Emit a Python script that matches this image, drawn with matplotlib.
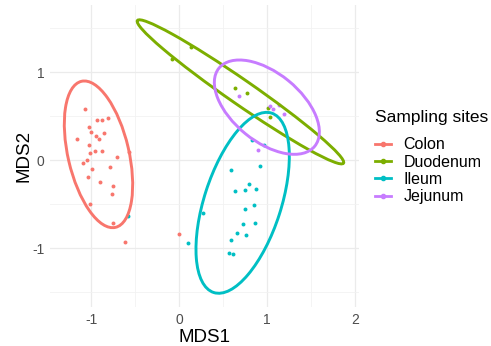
import numpy as np
import matplotlib
matplotlib.use("Agg")
import matplotlib.pyplot as plt
from matplotlib.patches import Ellipse
from matplotlib.lines import Line2D

plt.rcParams['font.family'] = ['Liberation Sans', 'DejaVu Sans']
plt.rcParams['axes.unicode_minus'] = False

# groups and ggplot hue colours
sites = ['Colon', 'Duodenum', 'Ileum', 'Jejunum']
colors = ['#F8766D', '#7CAE00', '#00BFC4', '#C77CFF']

# MDS coordinates
colon_x = [-1.072, -0.935, -0.878, -0.814, -1.030, -1.003, -0.947, -0.916, -0.852,
           -1.166, -1.023, -0.955, -0.875, -1.015, -0.711, -0.568, -1.049, -1.098,
           -0.784, -0.989, -1.034, -0.898, -0.750, -0.765, -1.011, -0.753, -0.617, 0.0]
colon_y = [0.580, 0.458, 0.455, 0.477, 0.382, 0.322, 0.276, 0.242, 0.314,
           0.239, 0.177, 0.109, 0.102, 0.080, 0.034, 0.098, 0.003, -0.031,
           -0.076, -0.102, -0.186, -0.250, -0.289, -0.386, -0.493, -0.713, -0.925, -0.841]

duod_x = [0.129, -0.080, 0.636, 0.766, 1.004, 1.027]
duod_y = [1.291, 1.155, 0.818, 0.768, 0.598, 0.495]

ileum_x = [0.830, 0.966, 0.920, 0.587, 0.795, 0.633, 0.747, 0.868, 0.273, 0.750,
           0.845, 0.724, 0.857, 0.659, 0.758, 0.591, 0.102, 0.568, 0.607, -0.578]
ileum_y = [0.231, 0.174, -0.061, -0.107, -0.269, -0.352, -0.338, -0.330, -0.595, -0.553,
           -0.511, -0.727, -0.712, -0.830, -0.845, -0.906, -0.940, -1.057, -1.061, -0.628]

jej_x = [0.678, 1.034, 1.068, 1.136, 1.190, 0.891]
jej_y = [0.731, 0.620, 0.580, 0.632, 0.526, 0.114]

# 95% ellipses (centre, full axis lengths, angle in degrees)
ell_cx = [-0.918, 0.695, 0.720, 0.995]
ell_cy = [0.068, 0.778, -0.483, 0.604]
ell_w = [1.704, 2.848, 2.142, 1.404]
ell_h = [0.692, 0.280, 0.874, 0.776]
ell_angle = [-76.9, -34.7, 72.1, -39.2]

xs = [colon_x, duod_x, ileum_x, jej_x]
ys = [colon_y, duod_y, ileum_y, jej_y]

fig = plt.figure(figsize=(4.91, 3.46), dpi=100)
ax = fig.add_axes([50 / 491, 39 / 346, 309 / 491, 302 / 346])

for i in range(4):
    ax.scatter(xs[i], ys[i], s=8, color=colors[i], linewidths=0, zorder=3)
for i in range(4):
    e = Ellipse((ell_cx[i], ell_cy[i]), ell_w[i], ell_h[i], angle=ell_angle[i],
                fill=False, edgecolor=colors[i], linewidth=2.1, zorder=4)
    ax.add_patch(e)

ax.set_xlim(-1.469, 2.042)
ax.set_ylim(-1.667, 1.765)
ax.set_xticks([-1, 0, 1, 2])
ax.set_yticks([-1, 0, 1])
ax.set_xticks([-0.5, 0.5, 1.5], minor=True)
ax.set_yticks([-1.5, -0.5, 0.5, 1.5], minor=True)
ax.grid(True, which='major', color='#EBEBEB', linewidth=0.9)
ax.grid(True, which='minor', color='#F2F2F2', linewidth=0.6)
ax.set_axisbelow(True)
for sp in ax.spines.values():
    sp.set_visible(False)
ax.tick_params(which='both', length=0, labelsize=10, labelcolor='#4D4D4D', pad=4)
ax.set_xlabel('MDS1', fontsize=13.5, color='black', labelpad=1.5)
ax.set_ylabel('MDS2', fontsize=13.5, color='black', labelpad=0)

handles = [Line2D([0], [0], color=c, linewidth=2, marker='o', markersize=3) for c in colors]
leg = fig.legend(handles, sites, title='Sampling sites', loc='center left',
                 bbox_to_anchor=(375 / 491, 0.546), frameon=False, fontsize=11.5,
                 title_fontsize=12.5, handlelength=1.0, handletextpad=0.8,
                 labelspacing=0.15, borderaxespad=0, borderpad=0)
leg._legend_box.align = 'left'
leg._legend_box.sep = 9

fig.savefig('out.png', dpi=100)
